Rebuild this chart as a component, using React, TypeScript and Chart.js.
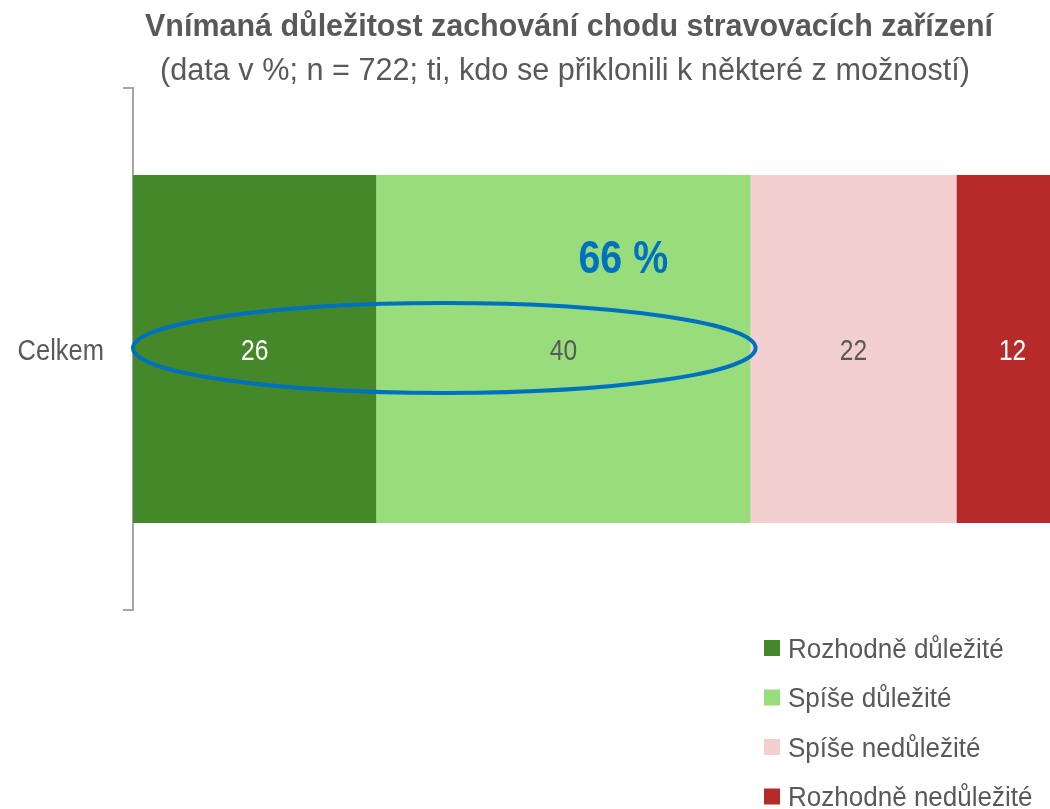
import React, { useEffect, useRef } from "react";
import { Chart, registerables } from "chart.js";

Chart.register(...registerables);

const titleText = "Vnímaná důležitost zachování chodu stravovacích zařízení";
const subtitleText = "(data v %; n = 722; ti, kdo se přiklonili k některé z možností)";
const categories = ["Celkem"];
const seriesNames = ["Rozhodně důležité", "Spíše důležité", "Spíše nedůležité", "Rozhodně nedůležité"];
const rozhodneDulezite = [26];
const spiseDulezite = [40];
const spiseNedulezite = [22];
const rozhodneNedulezite = [12];
const seriesColors = ["#44882A", "#99DC7B", "#F3CFCF", "#B62A2A"];
const labelColors = ["#FFFFFF", "#595959", "#595959", "#FFFFFF"];
const highlightLabel = "66 %";

const FONT = "'Liberation Sans', Arial, sans-serif";
const GRAY = "#595959";
const BLUE = "#0070C0";

function drawScaled(ctx: any, text: string, x: number, y: number, font: string, sx: number, align: string) {
  ctx.save();
  ctx.font = font;
  ctx.textAlign = align;
  ctx.textBaseline = "alphabetic";
  ctx.translate(x, y);
  ctx.scale(sx, 1);
  ctx.fillText(text, 0, 0);
  ctx.restore();
}

function drawFitted(ctx: any, text: string, cx: number, y: number, font: string, width: number) {
  ctx.save();
  ctx.font = font;
  const w = ctx.measureText(text).width;
  ctx.restore();
  drawScaled(ctx, text, cx, y, font, width / w, "center");
}

export default function App() {
  const ref = useRef<HTMLCanvasElement | null>(null);

  useEffect(() => {
    if (!ref.current) return;
    const seriesData = [rozhodneDulezite, spiseDulezite, spiseNedulezite, rozhodneNedulezite];

    const titlePlugin = {
      id: "customTitle",
      afterDraw(chart: any) {
        const ctx = chart.ctx;
        ctx.save();
        ctx.fillStyle = GRAY;
        drawFitted(ctx, titleText, 569, 36, `bold 31px ${FONT}`, 848);
        drawFitted(ctx, subtitleText, 565, 80, `31px ${FONT}`, 810);
        ctx.restore();
      },
    };

    const tickPlugin = {
      id: "narrowTicks",
      afterDraw(chart: any) {
        const ctx = chart.ctx;
        const ys = chart.scales.y;
        ctx.save();
        ctx.fillStyle = GRAY;
        ys.ticks.forEach((t: any, i: number) => {
          const y = ys.getPixelForTick(i);
          drawScaled(ctx, ys.getLabelForValue(t.value), 104, y + 11, `30px ${FONT}`, 0.85, "right");
        });
        ctx.restore();
      },
    };

    const valuePlugin = {
      id: "valueLabels",
      afterDatasetsDraw(chart: any) {
        const ctx = chart.ctx;
        ctx.save();
        chart.data.datasets.forEach((ds: any, i: number) => {
          const meta = chart.getDatasetMeta(i);
          meta.data.forEach((el: any, j: number) => {
            const cx = (el.x + el.base) / 2;
            ctx.fillStyle = labelColors[i];
            drawScaled(ctx, String(ds.data[j]), cx, el.y + 11, `30px ${FONT}`, 0.82, "center");
          });
        });
        ctx.restore();
      },
    };

    const ellipsePlugin = {
      id: "ellipseAnnot",
      afterDatasetsDraw(chart: any) {
        const ctx = chart.ctx;
        const xs = chart.scales.x;
        const ys = chart.scales.y;
        const sum = rozhodneDulezite[0] + spiseDulezite[0];
        const left = xs.getPixelForValue(0);
        const right = xs.getPixelForValue(sum) + 5;
        const cy = ys.getPixelForValue(0) - 1;
        ctx.save();
        ctx.strokeStyle = BLUE;
        ctx.lineWidth = 4;
        ctx.beginPath();
        ctx.ellipse((left + right) / 2, cy, (right - left) / 2, 45, 0, 0, Math.PI * 2);
        ctx.stroke();
        ctx.fillStyle = BLUE;
        drawScaled(ctx, highlightLabel, xs.getPixelForValue(52.4), cy - 75, `bold 46px ${FONT}`, 0.855, "center");
        ctx.restore();
      },
    };

    const legendPlugin = {
      id: "customLegend",
      afterDraw(chart: any) {
        const ctx = chart.ctx;
        ctx.save();
        chart.data.datasets.forEach((ds: any, i: number) => {
          const y = 648 + i * 49.5;
          ctx.fillStyle = ds.backgroundColor;
          ctx.fillRect(764, y - 8, 16, 16);
          ctx.fillStyle = GRAY;
          drawScaled(ctx, ds.label, 788, y + 9.5, `27px ${FONT}`, 0.964, "left");
        });
        ctx.restore();
      },
    };

    const chart = new Chart(ref.current, {
      type: "bar",
      data: {
        labels: categories,
        datasets: seriesData.map((d, i) => ({
          label: seriesNames[i],
          data: d,
          backgroundColor: seriesColors[i],
          borderWidth: 0,
          barPercentage: 1,
          categoryPercentage: 0.667,
        })),
      },
      options: {
        indexAxis: "y",
        responsive: false,
        animation: false,
        devicePixelRatio: 1,
        layout: { padding: { top: 88, bottom: 199, left: 0, right: 0 } },
        plugins: {
          legend: { display: false },
          title: { display: false },
          tooltip: { enabled: false },
        },
        scales: {
          x: {
            type: "linear",
            stacked: true,
            min: 0,
            max: 98,
            display: false,
          },
          y: {
            type: "category",
            stacked: true,
            afterFit(scale: any) {
              scale.width = 133;
            },
            grid: {
              display: true,
              drawOnChartArea: false,
              drawTicks: true,
              tickLength: 10,
              color: "#A6A6A6",
              lineWidth: 2,
            },
            border: { display: true, color: "#A6A6A6", width: 2 },
            ticks: { display: false },
          },
        },
      },
      plugins: [titlePlugin, tickPlugin, valuePlugin, ellipsePlugin, legendPlugin],
    } as any);

    return () => chart.destroy();
  }, []);

  return (
    <div style={{ position: "absolute", left: 0, top: 0, width: 1050, height: 809, background: "#fff" }}>
      <canvas ref={ref} width={1050} height={809} style={{ display: "block" }} />
    </div>
  );
}
